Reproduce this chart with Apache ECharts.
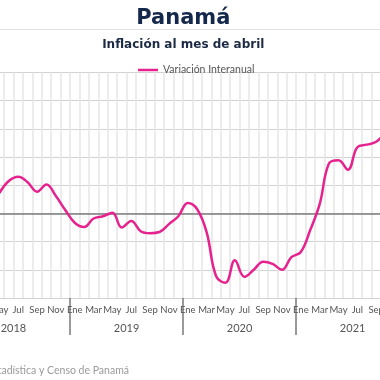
<!DOCTYPE html>
<html>
<head>
<meta charset="utf-8">
<script src="https://cdn.jsdelivr.net/npm/echarts@6/dist/echarts.min.js"></script>
<style>
html,body{margin:0;padding:0;width:380px;height:380px;overflow:hidden;background:#fff;}
#wrap{position:absolute;left:-60px;top:0;width:500px;height:380px;}
</style>
</head>
<body>
<div id="wrap"></div>
<script>
var years = ['2018', '2019', '2020', '2021'];
var monthNames = ['Ene','Feb','Mar','Abr','May','Jun','Jul','Ago','Sep','Oct','Nov','Dic'];
// Variación interanual (%), Ene 2018 ... Dic 2021
var values2018 = [null, null, null, null, 0.72, 1.15, 1.30, 1.11, 0.77, 1.03, 0.62, 0.12];
var values2019 = [-0.33, -0.48, -0.18, -0.10, 0.02, -0.50, -0.27, -0.63, -0.70, -0.66, -0.38, -0.10];
var values2020 = [0.37, 0.15, -0.66, -2.22, -2.46, -1.66, -2.25, -2.00, -1.71, -1.79, -2.00, -1.55];
var values2021 = [-1.37, -0.59, 0.33, 1.78, 1.89, 1.55, 2.35, 2.44, 2.54, 2.90, null, null];
var yTicks = [-3, -2, -1, 0, 1, 2, 3, 4, 5];

var OFF = 60;
var categories = [];
years.forEach(function (y) { monthNames.forEach(function (m) { categories.push(m + ' ' + y); }); });
var values = [].concat(values2018, values2019, values2020, values2021);

var chart = echarts.init(document.getElementById('wrap'), null, {renderer: 'canvas'});
var FONT = 'Lato, "Noto Sans", sans-serif';
chart.setOption({
  animation: false,
  backgroundColor: '#fff',
  graphic: [
    {type: 'text', x: 183.3 + OFF, y: 18.5, style: {text: 'Panamá', align: 'center', verticalAlign: 'middle', font: 'bold 21px "DejaVu Sans"', fill: '#14284b'}},
    {type: 'line', shape: {x1: 0, y1: 29.5, x2: 500, y2: 29.5}, style: {stroke: '#e2e2e2', lineWidth: 1}},
    {type: 'text', x: 183.3 + OFF, y: 45, style: {text: 'Inflación al mes de abril', align: 'center', verticalAlign: 'middle', font: 'bold 12px "DejaVu Sans"', fill: '#1c2a45'}},
    {type: 'text', x: 129 + OFF, y: 371, style: {text: 'Fuente: Instituto Nacional de Estadística y Censo de Panamá', align: 'right', verticalAlign: 'middle', font: '10.5px ' + FONT, fill: '#9a9a9a'}}
  ],
  legend: {
    data: ['Variación Interanual'],
    left: 133 + OFF,
    top: 59.5,
    icon: 'rect',
    itemWidth: 20,
    itemHeight: 2.5,
    textStyle: {fontFamily: FONT, fontSize: 10.5, color: '#555'}
  },
  grid: {left: 16.96, width: 452.2, top: 72.5, bottom: 82},
  xAxis: [
    {
      type: 'category',
      data: categories,
      position: 'bottom',
      boundaryGap: true,
      axisLine: {show: true, lineStyle: {color: '#d4d4d4', width: 1}},
      axisTick: {show: false},
      axisLabel: {
        interval: function (i) { return i % 2 === 0; },
        formatter: function (v) { return v.split(' ')[0]; },
        margin: 7,
        fontFamily: FONT, fontSize: 9.5, color: '#555'
      },
      splitLine: {show: true, interval: 0, lineStyle: {color: '#e6e6e6', width: 1.5}}
    },
    {
      type: 'category',
      data: years,
      position: 'bottom',
      offset: 0,
      boundaryGap: true,
      axisLine: {show: false},
      axisTick: {show: true, length: 37, lineStyle: {color: '#7a7a7a', width: 1.5}},
      axisLabel: {margin: 25, fontFamily: FONT, fontSize: 11, color: '#555'},
      splitLine: {show: false}
    }
  ],
  yAxis: {
    type: 'value',
    min: yTicks[0],
    max: yTicks[yTicks.length - 1],
    interval: 1,
    axisLabel: {show: false},
    axisLine: {show: false},
    axisTick: {show: false},
    splitLine: {show: true, lineStyle: {color: '#d2d2d2', width: 1.2}}
  },
  series: [{
    name: 'Variación Interanual',
    type: 'line',
    xAxisIndex: 0,
    data: values,
    smooth: 0.4,
    showSymbol: false,
    symbol: 'none',
    lineStyle: {color: '#e5228e', width: 2.5},
    itemStyle: {color: '#e5228e'},
    markLine: {
      silent: true,
      symbol: 'none',
      label: {show: false},
      lineStyle: {color: '#7d7d7d', width: 1.5, type: 'solid'},
      data: [{yAxis: 0}]
    },
    z: 5
  }]
});
</script>
</body>
</html>
